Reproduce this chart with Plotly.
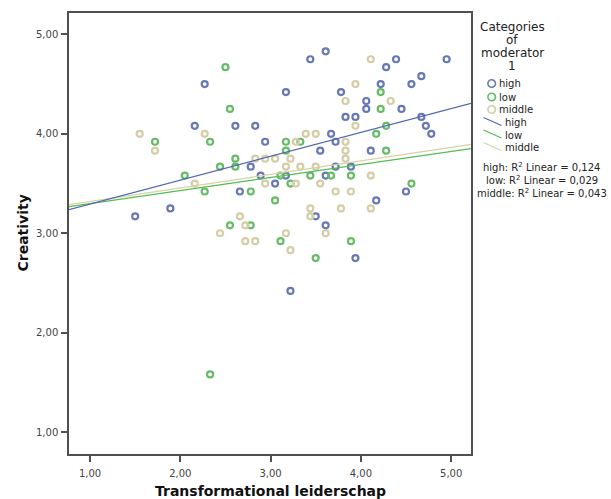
import numpy as np
import plotly.graph_objects as go

# ---- data ----
high_x = [2.27, 2.16, 2.61, 2.83, 2.94, 2.78, 2.89, 2.66, 1.50, 1.89, 3.61, 3.44, 4.39, 4.95,
          4.28, 4.67, 4.56, 4.22, 3.17, 3.78, 4.06, 4.06, 4.45, 3.83, 3.94, 4.67, 4.72, 3.67,
          4.78, 3.72, 3.55, 4.11, 3.72, 3.89, 3.17, 3.61, 3.05, 4.50, 4.17, 3.50, 3.61, 3.94, 3.22]
high_y = [4.50, 4.08, 4.08, 4.08, 3.92, 3.67, 3.58, 3.42, 3.17, 3.25, 4.83, 4.75, 4.75, 4.75,
          4.67, 4.58, 4.50, 4.50, 4.42, 4.42, 4.33, 4.25, 4.25, 4.17, 4.17, 4.17, 4.08, 4.00,
          4.00, 3.92, 3.83, 3.83, 3.67, 3.67, 3.58, 3.58, 3.50, 3.42, 3.33, 3.17, 3.08, 2.75, 2.42]

low_x = [1.72, 2.50, 2.55, 2.33, 2.61, 2.44, 2.61, 2.05, 2.27, 2.78, 2.55, 2.78, 4.22, 4.22,
         4.28, 4.17, 3.17, 3.33, 3.17, 4.28, 3.11, 3.44, 3.67, 3.89, 3.22, 4.56, 3.05, 3.11,
         3.89, 3.50, 2.33]
low_y = [3.92, 4.67, 4.25, 3.92, 3.75, 3.67, 3.67, 3.58, 3.42, 3.42, 3.08, 3.08, 4.42, 4.25,
         4.08, 4.00, 3.92, 3.92, 3.83, 3.83, 3.58, 3.58, 3.58, 3.58, 3.50, 3.50, 3.33, 2.92,
         2.92, 2.75, 1.58]

middle_x = [1.55, 1.72, 2.27, 2.83, 2.94, 2.16, 2.94, 2.66, 2.72, 2.44, 2.72, 2.83, 4.11, 3.94,
            3.83, 4.33, 3.94, 3.39, 3.50, 3.28, 3.83, 3.83, 3.05, 3.22, 3.83, 3.17, 3.33, 3.50,
            4.11, 3.28, 3.55, 3.72, 3.89, 3.44, 3.78, 4.11, 3.44, 3.17, 3.61, 3.22]
middle_y = [4.00, 3.83, 4.00, 3.75, 3.75, 3.50, 3.50, 3.17, 3.08, 3.00, 2.92, 2.92, 4.75, 4.50,
            4.33, 4.33, 4.08, 4.00, 4.00, 3.92, 3.92, 3.83, 3.75, 3.75, 3.75, 3.67, 3.67, 3.67,
            3.58, 3.50, 3.50, 3.42, 3.42, 3.25, 3.25, 3.25, 3.17, 3.00, 3.00, 2.83]

groups = ["high", "low", "middle"]
# linear fit lines as drawn in the reference (intercept, slope)
fit_intercept = {"high": 3.054, "low": 3.168, "middle": 3.184}
fit_slope = {"high": 0.240, "low": 0.131, "middle": 0.136}
r2_labels = ["0,124", "0,029", "0,043"]
x_ticks = [1, 2, 3, 4, 5]
y_ticks = [1, 2, 3, 4, 5]
X_RANGE = [0.767, 5.22]
Y_RANGE = [0.78, 5.215]

marker_colors = {"high": "#6878B6", "low": "#66BC66", "middle": "#D4CDA6"}
line_colors = {"high": "#5468B0", "low": "#4FBF4F", "middle": "#D8D1A8"}

W, H = 611, 499
ML, MR, MT, MB = 69, 140, 13, 45
PW, PH = W - ML - MR, H - MT - MB


def px(xp):
    return (xp - ML) / PW


def py(yp):
    return (H - MB - yp) / PH


fig = go.Figure()
data = {"high": (high_x, high_y), "low": (low_x, low_y), "middle": (middle_x, middle_y)}

for g in groups:
    xs, ys = data[g]
    fig.add_trace(go.Scatter(
        x=xs, y=ys, mode="markers", name=g, showlegend=False,
        marker=dict(symbol="circle-open", size=6, color=marker_colors[g],
                    line=dict(width=2.2, color=marker_colors[g])),
        hoverinfo="x+y"))

for g in ["middle", "low", "high"]:
    lx = np.array(X_RANGE)
    fig.add_trace(go.Scatter(
        x=lx, y=fit_intercept[g] + fit_slope[g] * lx, mode="lines", showlegend=False,
        line=dict(color=line_colors[g], width=1.3), hoverinfo="skip"))

axis_common = dict(showgrid=False, zeroline=False, showline=True, mirror=True,
                   linecolor="#505050", linewidth=1.5, ticks="outside", ticklen=6,
                   tickcolor="#505050", tickwidth=1.5, tickformat=".2f",
                   tickfont=dict(family="DejaVu Sans", size=10, color="#444444"))

fig.update_layout(
    width=W, height=H, autosize=False,
    margin=dict(l=ML, r=MR, t=MT, b=MB, pad=0),
    paper_bgcolor="white", plot_bgcolor="white",
    separators=",.",
    showlegend=False,
    xaxis=dict(range=X_RANGE, tickvals=x_ticks, ticklabelstandoff=3, **axis_common),
    yaxis=dict(range=Y_RANGE, tickvals=y_ticks, ticklabelstandoff=1, **axis_common),
)

ann = []
# axis titles
ann.append(dict(text="Transformational leiderschap", x=0.5, y=py(491), xref="paper", yref="paper",
                xanchor="center", yanchor="middle", showarrow=False,
                font=dict(family="DejaVu Sans", size=14, color="#111111", weight="bold")))
ann.append(dict(text="Creativity", x=px(22), y=0.5, xref="paper", yref="paper", textangle=-90,
                xanchor="center", yanchor="middle", showarrow=False,
                font=dict(family="DejaVu Sans", size=14, color="#111111", weight="bold")))

# legend title
for txt, yp in zip(["Categories", "of", "moderator", "1"], [27, 40, 53.5, 66.5]):
    ann.append(dict(text=txt, x=px(512), y=py(yp), xref="paper", yref="paper",
                    xanchor="center", yanchor="middle", showarrow=False,
                    font=dict(family="DejaVu Sans", size=12, color="#222222")))

shapes = []
marker_rows = [83.5, 97, 109.5]
line_rows = [122.5, 135, 147.5]
for g, yp in zip(groups, marker_rows):
    shapes.append(dict(type="circle", xref="paper", yref="paper",
                       xsizemode="pixel", ysizemode="pixel",
                       xanchor=px(491.7), yanchor=py(yp),
                       x0=-3.8, x1=3.8, y0=-3.8, y1=3.8,
                       line=dict(color=marker_colors[g], width=1.6)))
    ann.append(dict(text=g, x=px(497), y=py(yp), xref="paper", yref="paper",
                    xanchor="left", yanchor="middle", showarrow=False,
                    font=dict(family="DejaVu Sans", size=10, color="#222222")))
for g, yp in zip(groups, line_rows):
    shapes.append(dict(type="line", xref="paper", yref="paper",
                       x0=px(483.5), x1=px(501.5), y0=py(yp - 5), y1=py(yp + 3),
                       line=dict(color=line_colors[g], width=1.3)))
    ann.append(dict(text=g, x=px(502.5), y=py(yp), xref="paper", yref="paper",
                    xanchor="left", yanchor="middle", showarrow=False,
                    font=dict(family="DejaVu Sans", size=10, color="#222222")))

for g, r2, yp in zip(groups, r2_labels, [166.5, 180, 193]):
    ann.append(dict(text=f"{g}: R<sup>2</sup> Linear = {r2}", x=px(541.5), y=py(yp),
                    xref="paper", yref="paper", xanchor="center", yanchor="middle",
                    showarrow=False,
                    font=dict(family="DejaVu Sans", size=10, color="#222222")))

fig.update_layout(annotations=ann, shapes=shapes)
fig.write_html("out.html", config={"displayModeBar": False},
               post_script="document.body.style.margin='0px';")
